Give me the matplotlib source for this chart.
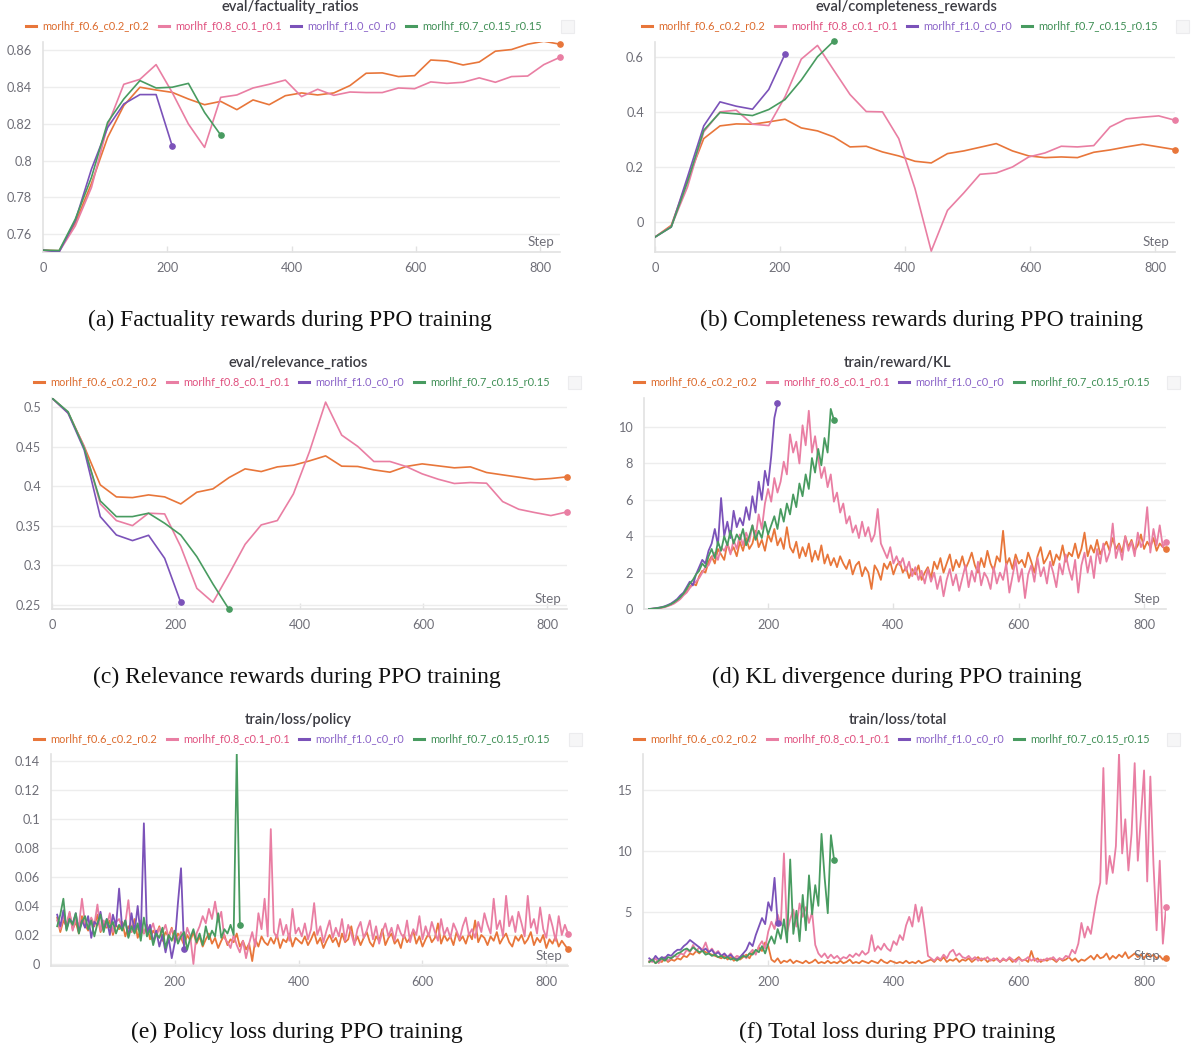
import numpy as np
import matplotlib
matplotlib.use("Agg")
import matplotlib.pyplot as plt
from matplotlib.lines import Line2D
from matplotlib.patches import Rectangle

W, H = 1194, 1050

runs = ["morlhf_f0.6_c0.2_r0.2", "morlhf_f0.8_c0.1_r0.1", "morlhf_f1.0_c0_r0", "morlhf_f0.7_c0.15_r0.15"]
line_colors = ["#e8763a", "#e97ea3", "#7b52b9", "#489b60"]
text_colors = ["#dc6a2c", "#e0507f", "#8a63c8", "#3f8f55"]

# eval steps (every 26 steps)
eval_steps = [0, 26, 52, 78, 104, 130, 156, 182, 208, 234, 260, 286, 312, 338, 364, 390, 416,
              442, 468, 494, 520, 546, 572, 598, 624, 650, 676, 702, 728, 754, 780, 806, 832]

# (a) eval/factuality_ratios
fact_orange = [0.7513, 0.751, 0.766, 0.7876, 0.8126, 0.8299, 0.8399, 0.8384, 0.8371, 0.8335, 0.8304,
               0.8322, 0.8277, 0.833, 0.8304, 0.8353, 0.8368, 0.8357, 0.8368, 0.8408, 0.8475, 0.8477,
               0.8457, 0.8462, 0.8547, 0.8542, 0.852, 0.8536, 0.8595, 0.8604, 0.8633, 0.8649, 0.8633]
fact_pink = [0.7513, 0.7505, 0.7645, 0.7854, 0.819, 0.8415, 0.8442, 0.8522, 0.837, 0.8199, 0.8072,
             0.8344, 0.8357, 0.8395, 0.8415, 0.8438, 0.8348, 0.8388, 0.8355, 0.8373, 0.837, 0.837,
             0.8395, 0.8391, 0.8428, 0.842, 0.8426, 0.845, 0.8426, 0.8457, 0.846, 0.8522, 0.8562]
fact_purple = [0.7513, 0.7503, 0.7673, 0.7954, 0.818, 0.8308, 0.8359, 0.8359, 0.8079]
fact_green = [0.7513, 0.7511, 0.7682, 0.7909, 0.8208, 0.8335, 0.8435, 0.8395, 0.8399, 0.842, 0.8262, 0.8139]

# (b) eval/completeness_rewards
comp_orange = [-0.0547, -0.012, 0.152, 0.3036, 0.3498, 0.357, 0.3559, 0.3644, 0.374, 0.3425, 0.3316,
               0.3097, 0.2733, 0.2757, 0.255, 0.2405, 0.2211, 0.215, 0.249, 0.2587, 0.272, 0.2854,
               0.2587, 0.2405, 0.2344, 0.2368, 0.2344, 0.2538, 0.2623, 0.2733, 0.283, 0.2733, 0.2636]
comp_pink = [-0.0547, -0.016, 0.1275, 0.328, 0.4008, 0.4069, 0.3559, 0.351, 0.4555, 0.5927, 0.6425,
             0.5526, 0.464, 0.402, 0.4008, 0.3036, 0.1215, -0.1057, 0.0425, 0.1057, 0.1737, 0.1785,
             0.2004, 0.2368, 0.2514, 0.2757, 0.2733, 0.2781, 0.3461, 0.3753, 0.3814, 0.3862, 0.3704]
comp_purple = [-0.0547, -0.018, 0.164, 0.3498, 0.4372, 0.4214, 0.4105, 0.4822, 0.611]
comp_green = [-0.0547, -0.018, 0.1457, 0.334, 0.3984, 0.3935, 0.3874, 0.4093, 0.4457, 0.5162, 0.6012, 0.6583]

# (c) eval/relevance_ratios
rel_orange = [0.5114, 0.4933, 0.4503, 0.4018, 0.3866, 0.3857, 0.3891, 0.3866, 0.3777, 0.3925, 0.3967,
              0.411, 0.422, 0.4186, 0.4245, 0.4266, 0.4321, 0.4384, 0.4254, 0.425, 0.4207, 0.4178,
              0.425, 0.4283, 0.4258, 0.4233, 0.4245, 0.4174, 0.4144, 0.4115, 0.4085, 0.4098, 0.4119]
rel_pink = [0.5114, 0.4924, 0.4503, 0.3777, 0.3567, 0.3503, 0.366, 0.3651, 0.3238, 0.2711, 0.2534,
            0.2892, 0.3267, 0.3512, 0.3567, 0.3904, 0.4439, 0.5063, 0.4646, 0.4503, 0.4313, 0.4313,
            0.425, 0.4157, 0.4089, 0.4035, 0.4047, 0.4039, 0.3807, 0.371, 0.3668, 0.363, 0.3676]
rel_purple = [0.5114, 0.4924, 0.446, 0.3617, 0.3385, 0.3314, 0.3381, 0.309, 0.2534]
rel_green = [0.5114, 0.4941, 0.4481, 0.3815, 0.3617, 0.3617, 0.366, 0.3533, 0.3385, 0.3111, 0.2766, 0.2445]

# train steps (logged every 5 steps)
train_steps_long = list(range(10, 840, 5))    # orange, pink
train_steps_purple = list(range(10, 220, 5))
train_steps_green = list(range(10, 310, 5))

# (d) train/reward/KL
kl_orange = [0.0, 0.01, 0.03, 0.05, 0.08, 0.12, 0.18, 0.25, 0.35, 0.45,
             0.6, 0.8, 0.95, 1.2, 1.4, 1.3, 1.8, 2.1, 2.0, 2.6,
             2.9, 2.5, 3.3, 3.0, 2.7, 3.6, 3.1, 3.4, 2.9, 3.7,
             3.2, 3.9, 3.3, 3.6, 4.3, 3.4, 3.8, 3.2, 4.1, 3.7,
             4.4, 3.5, 3.9, 3.3, 4.5, 3.4, 3.1, 3.7, 2.8, 3.4,
             2.9, 3.6, 2.6, 3.2, 2.7, 3.5, 2.5, 3.0, 2.4, 2.8,
             2.3, 2.9, 2.5, 2.2, 2.7, 1.9, 2.4, 2.6, 1.8, 2.3,
             2.0, 1.1, 2.4, 2.1, 1.6, 2.5, 2.2, 2.6, 1.9, 2.4,
             2.6, 2.0, 2.3, 1.7, 2.2, 1.9, 2.4, 1.6, 2.0, 2.3,
             1.7, 2.6, 2.2, 2.8, 2.0, 2.5, 3.0, 2.1, 2.7, 2.3,
             2.9, 2.2, 2.6, 3.1, 2.4, 2.0, 2.8, 2.3, 3.2, 2.5,
             2.1, 2.9, 2.6, 4.3, 2.4, 2.8, 2.2, 3.0, 2.5, 2.7,
             2.3, 3.1, 2.6, 2.0, 2.9, 3.4, 2.5, 2.8, 3.2, 2.4,
             3.0, 2.7, 3.5, 2.6, 3.1, 2.9, 3.6, 2.8, 3.3, 4.2,
             2.9, 3.5, 3.1, 3.8, 3.0, 3.4, 3.7, 3.2, 3.9, 3.3,
             3.6, 3.1, 4.0, 3.4, 3.8, 3.2, 3.5, 4.1, 3.3, 3.7,
             3.4, 3.9, 3.2, 3.6, 3.4, 3.3]
kl_pink = [0.0, 0.01, 0.02, 0.05, 0.07, 0.1, 0.16, 0.22, 0.3, 0.42,
           0.55, 0.75, 0.9, 1.15, 1.35, 1.5, 1.7, 2.0, 2.3, 2.4,
           2.8, 3.1, 2.7, 3.4, 3.2, 3.6, 3.0, 3.8, 3.3, 4.1,
           3.5, 4.2, 3.7, 4.6, 3.9, 5.2, 4.4, 5.8, 6.6, 5.9,
           7.2, 6.4, 7.0, 8.1, 7.4, 9.6, 8.6, 9.2, 8.0, 10.1,
           9.0, 10.9, 8.6, 9.5, 8.3, 7.2, 7.8, 6.7, 7.4, 5.9,
           6.4, 5.3, 5.8, 4.7, 5.1, 4.2, 4.6, 3.9, 4.8, 4.0,
           4.5, 3.7, 4.1, 5.5, 3.6, 3.2, 2.8, 3.4, 2.5, 2.9,
           2.4, 2.8, 2.1, 2.6, 1.8, 2.3, 1.6, 2.1, 1.4, 2.2,
           1.5, 2.0, 1.1, 1.8, 0.7, 1.6, 2.2, 1.3, 1.9, 1.0,
           1.7, 2.4, 1.2, 2.1, 1.5, 2.6, 1.3, 2.0, 1.7, 1.1,
           2.3, 1.4, 2.0, 1.6, 2.5, 0.9, 1.8, 2.7, 1.5, 2.2,
           0.6, 1.9, 2.4, 1.5, 2.8, 1.8, 2.3, 1.4, 2.6, 2.0,
           1.2, 2.5, 1.9, 3.0, 2.2, 1.6, 2.7, 0.9, 2.4, 3.1,
           2.0, 2.9, 1.7, 3.3, 2.5, 3.6, 2.6, 3.1, 4.7, 2.8,
           3.5, 2.7, 4.0, 3.2, 3.7, 2.9, 4.2, 3.4, 3.8, 5.6,
           3.1, 4.4, 3.5, 4.6, 3.4, 3.7]
kl_purple = [0.0, 0.02, 0.04, 0.07, 0.1, 0.15, 0.22, 0.3, 0.42, 0.55,
             0.75, 0.9, 1.2, 1.5, 1.3, 1.9, 2.3, 2.7, 2.5, 3.2,
             3.6, 4.4, 3.5, 6.1, 4.0, 4.8, 3.9, 5.4, 4.5, 5.0,
             4.6, 5.6, 4.9, 6.2, 5.3, 7.0, 6.0, 7.6, 6.8, 8.4,
             10.5, 11.3]
kl_green = [0.0, 0.01, 0.03, 0.06, 0.09, 0.13, 0.19, 0.27, 0.37, 0.5,
            0.65, 0.85, 1.1, 1.4, 1.6, 1.9, 2.1, 2.5, 2.3, 2.9,
            3.3, 2.8, 3.7, 3.2, 4.0, 3.5, 4.3, 3.6, 4.1, 3.8,
            4.4, 3.5, 4.0, 4.6, 3.8, 4.3, 3.9, 4.8, 4.1, 4.6,
            5.1, 4.4, 5.5, 4.8, 5.8, 5.2, 6.3, 5.6, 6.9, 6.2,
            7.4, 6.6, 8.3, 7.5, 8.8, 7.9, 9.4, 8.6, 11.0, 10.4]

# (e) train/loss/policy
pol_orange = [0.032, 0.022, 0.030, 0.026, 0.035, 0.024, 0.029, 0.021, 0.033, 0.027,
              0.023, 0.031, 0.026, 0.034, 0.022, 0.028, 0.025, 0.030, 0.020, 0.027,
              0.024, 0.029, 0.019, 0.026, 0.022, 0.031, 0.018, 0.024, 0.021, 0.027,
              0.017, 0.023, 0.020, 0.026, 0.016, 0.022, 0.019, 0.025, 0.015, 0.021,
              0.018, 0.013, 0.020, 0.016, 0.022, 0.014, 0.019, 0.012, 0.017, 0.021,
              0.014, 0.018, 0.011, 0.016, 0.020, 0.013, 0.017, 0.015, 0.021, 0.012,
              0.016, 0.010, 0.014, 0.002, 0.017, 0.012, 0.019, 0.015, 0.013, 0.018,
              0.014, 0.020, 0.011, 0.017, 0.015, 0.021, 0.012, 0.018, 0.016, 0.014,
              0.019, 0.013, 0.017, 0.022, 0.014, 0.018, 0.011, 0.016, 0.020, 0.015,
              0.018, 0.012, 0.021, 0.015, 0.017, 0.026, 0.014, 0.019, 0.013, 0.018,
              0.022, 0.015, 0.012, 0.019, 0.016, 0.024, 0.013, 0.018, 0.021, 0.014,
              0.017, 0.011, 0.020, 0.015, 0.018, 0.023, 0.014, 0.019, 0.012, 0.017,
              0.021, 0.015, 0.018, 0.028, 0.014, 0.020, 0.016, 0.019, 0.013, 0.022,
              0.016, 0.019, 0.014, 0.021, 0.017, 0.030, 0.015, 0.020, 0.018, 0.013,
              0.019, 0.016, 0.022, 0.014, 0.018, 0.021, 0.015, 0.012, 0.019, 0.016,
              0.020, 0.014, 0.017, 0.022, 0.013, 0.018, 0.015, 0.020, 0.011, 0.017,
              0.014, 0.019, 0.012, 0.016, 0.013, 0.010]
pol_pink = [0.030, 0.024, 0.033, 0.027, 0.036, 0.023, 0.031, 0.026, 0.045, 0.028,
            0.025, 0.032, 0.027, 0.041, 0.023, 0.030, 0.026, 0.035, 0.022, 0.029,
            0.031, 0.025, 0.028, 0.044, 0.022, 0.027, 0.024, 0.030, 0.021, 0.026,
            0.023, 0.028, 0.019, 0.025, 0.022, 0.027, 0.018, 0.024, 0.020, 0.016,
            0.022, 0.014, 0.025, 0.019, 0.000, 0.021, 0.026, 0.033, 0.028, 0.038,
            0.031, 0.043, 0.029, 0.036, 0.018, 0.015, 0.011, 0.020, 0.013, 0.008,
            0.016, 0.004, 0.014, 0.022, 0.012, 0.035, 0.024, 0.045, 0.019, 0.093,
            0.022, 0.018, 0.031, 0.020, 0.027, 0.016, 0.038, 0.021, 0.025, 0.019,
            0.028, 0.017, 0.024, 0.042, 0.020, 0.026, 0.015, 0.023, 0.030, 0.018,
            0.025, 0.019, 0.031, 0.016, 0.027, 0.021, 0.013, 0.024, 0.029, 0.018,
            0.023, 0.030, 0.017, 0.026, 0.014, 0.022, 0.028, 0.019, 0.025, 0.016,
            0.027, 0.021, 0.018, 0.030, 0.015, 0.024, 0.020, 0.033, 0.017, 0.026,
            0.019, 0.029, 0.022, 0.016, 0.031, 0.020, 0.025, 0.018, 0.028, 0.023,
            0.017, 0.026, 0.032, 0.020, 0.024, 0.018, 0.029, 0.022, 0.035, 0.027,
            0.021, 0.045, 0.024, 0.030, 0.019, 0.047, 0.026, 0.033, 0.022, 0.036,
            0.028, 0.019, 0.047, 0.025, 0.031, 0.021, 0.039, 0.024, 0.018, 0.034,
            0.026, 0.016, 0.033, 0.020, 0.027, 0.021]
pol_purple = [0.034, 0.026, 0.037, 0.024, 0.031, 0.028, 0.035, 0.022, 0.030, 0.025,
              0.033, 0.018, 0.029, 0.027, 0.036, 0.023, 0.031, 0.020, 0.034, 0.026,
              0.052, 0.024, 0.030, 0.019, 0.035, 0.022, 0.040, 0.018, 0.097, 0.021,
              0.027, 0.015, 0.023, 0.012, 0.020, 0.008, 0.018, 0.004, 0.015, 0.042,
              0.066, 0.010]
pol_green = [0.026, 0.034, 0.045, 0.023, 0.031, 0.027, 0.035, 0.021, 0.029, 0.033,
             0.024, 0.030, 0.019, 0.028, 0.034, 0.022, 0.031, 0.025, 0.029, 0.021,
             0.027, 0.023, 0.030, 0.018, 0.026, 0.021, 0.028, 0.016, 0.032, 0.019,
             0.024, 0.013, 0.021, 0.018, 0.025, 0.011, 0.020, 0.016, 0.023, 0.014,
             0.019, 0.022, 0.010, 0.018, 0.024, 0.015, 0.021, 0.013, 0.026, 0.017,
             0.023, 0.019, 0.035, 0.018, 0.024, 0.021, 0.027, 0.020, 0.145, 0.027]

# (f) train/loss/total
tot_orange = [0.9, 1.1, 0.8, 1.0, 0.9, 1.2, 0.9, 1.1, 1.0, 1.2,
              1.1, 1.4, 1.3, 1.6, 1.5, 1.8, 1.6, 1.9, 1.7, 1.6,
              1.5, 1.4, 1.3, 1.2, 1.4, 1.1, 1.3, 1.0, 1.2, 1.1,
              1.3, 1.5, 1.2, 1.7, 1.6, 2.1, 1.8, 2.5, 2.2, 1.1,
              0.9, 1.2, 0.8, 1.0, 0.9, 1.1, 0.8, 1.0, 0.9, 0.8,
              1.0, 0.8, 0.9, 1.1, 0.8, 0.9, 0.8, 1.0, 0.8, 0.9,
              0.8, 1.0, 0.8, 0.9, 1.1, 0.8, 0.9, 0.8, 1.0, 0.9,
              0.8, 1.0, 0.9, 0.8, 1.1, 0.9, 0.8, 1.0, 0.9, 0.8,
              0.9, 0.8, 1.0, 0.8, 0.9, 0.8, 1.0, 0.8, 0.9, 1.0,
              1.1, 0.9, 1.2, 1.0, 1.3, 0.9, 1.1, 1.0, 1.2, 0.9,
              1.1, 1.0, 1.2, 0.9, 1.1, 1.3, 1.0, 1.2, 0.9, 1.1,
              1.0, 1.2, 0.9, 1.1, 1.0, 1.2, 0.9, 1.1, 1.3, 1.0,
              1.1, 0.9, 1.8, 1.0, 1.2, 0.9, 1.1, 1.0, 1.2, 1.1,
              0.9, 1.2, 1.0, 1.1, 1.3, 1.0, 1.2, 0.9, 1.1, 1.0,
              1.2, 1.4, 1.1, 1.5, 1.2, 1.3, 1.6, 1.1, 1.4, 1.2,
              1.5, 1.3, 1.7, 1.2, 1.4, 1.6, 1.3, 1.5, 1.2, 1.6,
              1.3, 1.5, 1.2, 1.4, 1.1, 1.2]
tot_pink = [1.0, 0.9, 1.2, 0.8, 1.1, 1.3, 1.0, 1.2, 1.4, 1.3,
            1.6, 1.5, 1.9, 1.7, 2.3, 1.8, 2.1, 1.9, 2.5, 1.7,
            2.0, 1.6, 1.8, 1.4, 1.5, 1.3, 1.6, 1.2, 1.4, 1.3,
            1.5, 1.2, 1.6, 1.9, 1.5, 2.2, 2.6, 2.0, 3.4, 4.2,
            3.6, 4.8, 3.9, 9.8, 3.3, 4.4, 5.2, 3.8, 5.7, 4.6,
            5.4, 4.1, 5.0, 2.3, 1.6, 1.3, 1.6, 1.2, 1.5, 1.2,
            1.4, 1.1, 1.3, 1.2, 1.5, 1.3, 1.6, 1.4, 1.8, 1.5,
            1.7, 3.1, 1.8, 2.2, 1.9, 2.4, 2.0, 1.8, 2.6, 2.3,
            3.1, 2.7, 3.9, 4.6, 3.8, 5.6, 4.2, 5.4, 3.5, 1.4,
            1.2, 1.0, 1.3, 1.1, 1.5, 1.2, 1.7, 1.9, 1.4, 1.6,
            1.3, 1.2, 1.4, 1.1, 1.3, 1.0, 1.2, 1.1, 1.3, 1.0,
            1.2, 1.1, 0.9, 1.2, 1.0, 1.3, 1.1, 0.9, 1.2, 1.0,
            1.1, 1.3, 1.0, 1.2, 0.9, 1.1, 1.0, 1.2, 1.1, 1.3,
            1.0, 1.2, 1.1, 1.4, 1.3, 1.9, 1.6, 2.4, 4.1, 2.9,
            3.8, 3.2, 4.8, 6.3, 7.4, 16.8, 7.3, 9.6, 8.2, 10.4,
            18.0, 9.8, 12.6, 8.4, 11.4, 17.2, 9.2, 12.8, 16.6, 7.5,
            16.1, 8.9, 3.5, 9.2, 2.4, 5.4]
tot_purple = [1.2, 1.0, 1.4, 1.1, 1.3, 1.2, 1.5, 1.4, 1.7, 1.9,
              1.9, 2.2, 2.4, 2.7, 2.5, 2.3, 2.1, 1.8, 2.0, 1.7,
              1.9, 1.5, 1.7, 1.4, 1.6, 1.3, 1.5, 1.2, 1.1, 1.3,
              1.6, 1.9, 2.5, 2.2, 3.1, 3.8, 4.5, 4.0, 5.8, 5.1,
              7.8, 4.1]
tot_green = [0.9, 1.1, 0.8, 1.0, 1.2, 1.0, 1.3, 1.2, 1.4, 1.6,
             1.7, 1.9, 2.0, 1.8, 2.1, 1.9, 1.7, 1.8, 1.5, 1.6,
             1.4, 1.5, 1.3, 1.4, 1.2, 1.3, 1.1, 1.2, 1.0, 1.2,
             1.4, 1.3, 1.6, 1.5, 1.9, 1.7, 2.2, 1.6, 2.4, 3.0,
             2.4, 3.6, 2.8, 4.4, 2.5, 9.3, 3.2, 5.1, 2.6, 6.4,
             3.5, 8.0, 4.8, 7.2, 5.5, 11.4, 7.8, 4.9, 11.3, 9.3]


def fx(px):
    return px / W


def fy(py):
    return 1 - py / H


plt.rcParams['font.family'] = ['Lato', 'DejaVu Sans']
fig = plt.figure(figsize=(W / 100, H / 100), dpi=100)


def panel(box, title, tx, ty, series, xlim, ylim, yticks, xticks, caption, cx, cy, lw):
    l, t, r, b = box
    ax = fig.add_axes([fx(l), fy(b), fx(r - l), (b - t) / H])
    for i, (xs, ys) in enumerate(series):
        ax.plot(xs, ys, color=line_colors[i], lw=lw, solid_joinstyle='round', zorder=3 + i)
        ax.plot([xs[-1]], [ys[-1]], 'o', color=line_colors[i], ms=3.8, clip_on=False, zorder=3 + i)
    ax.set_xlim(*xlim)
    ax.set_ylim(*ylim)
    ax.set_yticks(yticks)
    ax.set_yticklabels(['{:g}'.format(v) for v in yticks])
    ax.set_xticks(xticks)
    ax.set_xticklabels(['{:g}'.format(v) for v in xticks])
    ax.grid(axis='y', color='#ededed', lw=1.0, zorder=0)
    for s in ['top', 'right']:
        ax.spines[s].set_visible(False)
    for s in ['left', 'bottom']:
        ax.spines[s].set_color('#e2e2e2')
        ax.spines[s].set_linewidth(1.2)
    ax.tick_params(axis='y', length=0, pad=8, labelsize=9.2, labelcolor='#6f6f78')
    ax.tick_params(axis='x', direction='in', length=4, width=1.0, color='#e2e2e2', pad=7,
                   labelsize=9.2, labelcolor='#6f6f78')
    ax.annotate('Step', xy=(1, 0), xycoords='axes fraction', xytext=(-4, 3),
                textcoords='offset points', ha='right', va='bottom', fontsize=9.6,
                color='#6f6f78', zorder=10)
    fig.text(fx(tx), fy(ty), title, ha='center', va='center', fontsize=10.6,
             fontweight='semibold', color='#3b3b42')
    handles = [Line2D([], [], color=c, lw=2.2) for c in line_colors]
    fig.legend(handles, runs, loc='center', bbox_to_anchor=(fx(tx - 6), fy(ty + 19)), ncol=4,
               frameon=False, fontsize=7.9, handlelength=0.9, handletextpad=0.6,
               columnspacing=0.85, labelcolor=text_colors, borderpad=0, borderaxespad=0)
    fig.patches.append(Rectangle((fx(r + 1), fy(ty + 26)), 13 / W, 13 / H, transform=fig.transFigure,
                                 facecolor='#f6f6f7', edgecolor='#ececee', lw=0.8))
    fig.text(fx(cx), fy(cy), caption, ha='center', va='center', fontsize=17,
             family='Liberation Serif', color='#111111')
    return ax


panel((43, 42, 560, 252), 'eval/factuality_ratios', 290, 7,
      [(eval_steps, fact_orange), (eval_steps, fact_pink),
       (eval_steps[:len(fact_purple)], fact_purple), (eval_steps[:len(fact_green)], fact_green)],
      (0, 832), (0.7503, 0.8645), [0.76, 0.78, 0.8, 0.82, 0.84, 0.86], [0, 200, 400, 600, 800],
      '(a) Factuality rewards during PPO training', 290, 320, 1.2)

panel((655, 42, 1175, 252), 'eval/completeness_rewards', 906, 7,
      [(eval_steps, comp_orange), (eval_steps, comp_pink),
       (eval_steps[:len(comp_purple)], comp_purple), (eval_steps[:len(comp_green)], comp_green)],
      (0, 832), (-0.109, 0.655), [0, 0.2, 0.4, 0.6], [0, 200, 400, 600, 800],
      '(b) Completeness rewards during PPO training', 922, 320, 1.2)

panel((52, 398, 567, 609), 'eval/relevance_ratios', 298, 363,
      [(eval_steps, rel_orange), (eval_steps, rel_pink),
       (eval_steps[:len(rel_purple)], rel_purple), (eval_steps[:len(rel_green)], rel_green)],
      (0, 832), (0.245, 0.5115), [0.25, 0.3, 0.35, 0.4, 0.45, 0.5], [0, 200, 400, 600, 800],
      '(c) Relevance rewards during PPO training', 297, 677, 1.2)

panel((644, 398, 1166, 609), 'train/reward/KL', 898, 363,
      [(train_steps_long, kl_orange), (train_steps_long, kl_pink),
       (train_steps_purple, kl_purple), (train_steps_green, kl_green)],
      (2, 835), (0, 11.6), [0, 2, 4, 6, 8, 10], [200, 400, 600, 800],
      '(d) KL divergence during PPO training', 897, 677, 1.3)

panel((51, 754, 568, 966), 'train/loss/policy', 298, 720,
      [(train_steps_long, pol_orange), (train_steps_long, pol_pink),
       (train_steps_purple, pol_purple), (train_steps_green, pol_green)],
      (0, 835), (-0.0014, 0.1448), [0, 0.02, 0.04, 0.06, 0.08, 0.1, 0.12, 0.14], [200, 400, 600, 800],
      '(e) Policy loss during PPO training', 297, 1032, 1.3)

panel((643, 754, 1166, 966), 'train/loss/total', 898, 720,
      [(train_steps_long, tot_orange), (train_steps_long, tot_pink),
       (train_steps_purple, tot_purple), (train_steps_green, tot_green)],
      (0, 835), (0.57, 17.95), [5, 10, 15], [200, 400, 600, 800],
      '(f) Total loss during PPO training', 897, 1032, 1.3)

fig.savefig('out.png', dpi=100)
